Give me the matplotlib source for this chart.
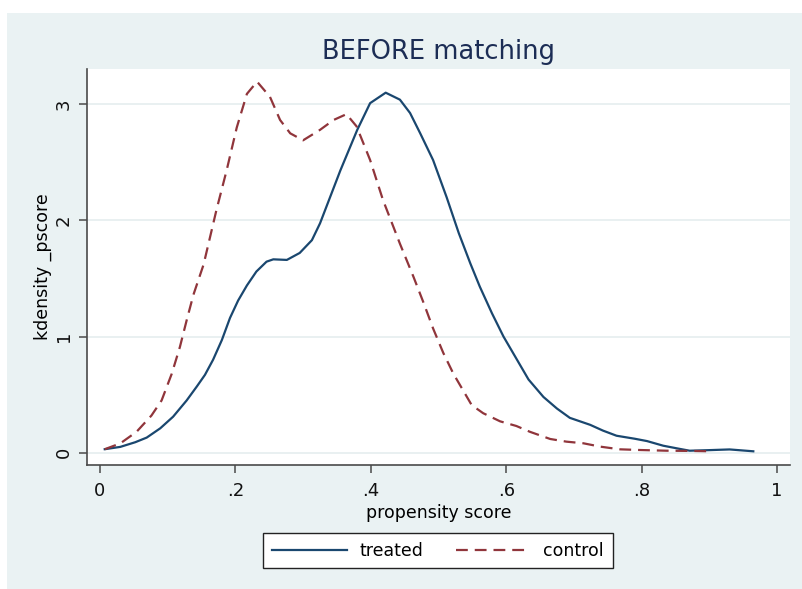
import matplotlib
matplotlib.use("Agg")
import matplotlib.pyplot as plt
from matplotlib.patches import Rectangle

# kernel density of the propensity score
treated_x = [0.007, 0.030, 0.052, 0.069, 0.089, 0.108, 0.128, 0.143, 0.155, 0.167,
             0.180, 0.192, 0.204, 0.217, 0.231, 0.246, 0.256, 0.276, 0.295, 0.313,
             0.325, 0.355, 0.380, 0.399, 0.422, 0.443, 0.458, 0.473, 0.492, 0.512,
             0.530, 0.547, 0.561, 0.579, 0.596, 0.613, 0.633, 0.655, 0.675, 0.694,
             0.724, 0.743, 0.763, 0.790, 0.808, 0.832, 0.857, 0.871, 0.900, 0.930,
             0.965]
treated_y = [0.03, 0.05, 0.09, 0.13, 0.21, 0.31, 0.45, 0.57, 0.67, 0.80,
             0.97, 1.16, 1.31, 1.44, 1.56, 1.645, 1.665, 1.66, 1.72, 1.83,
             1.975, 2.43, 2.78, 3.01, 3.10, 3.04, 2.925, 2.75, 2.52, 2.20,
             1.89, 1.63, 1.43, 1.20, 1.00, 0.83, 0.63, 0.48, 0.38, 0.30,
             0.24, 0.19, 0.146, 0.12, 0.10, 0.06, 0.032, 0.017, 0.022, 0.028,
             0.012]

control_x = [0.007, 0.030, 0.054, 0.076, 0.091, 0.106, 0.118, 0.128, 0.138, 0.153,
             0.172, 0.187, 0.202, 0.217, 0.232, 0.251, 0.266, 0.281, 0.300, 0.325,
             0.345, 0.364, 0.379, 0.399, 0.418, 0.443, 0.463, 0.478, 0.492, 0.507,
             0.522, 0.537, 0.549, 0.566, 0.591, 0.615, 0.635, 0.665, 0.689, 0.714,
             0.739, 0.768, 0.798, 0.837, 0.876, 0.904]
control_y = [0.03, 0.08, 0.18, 0.32, 0.45, 0.68, 0.91, 1.14, 1.36, 1.62,
             2.09, 2.43, 2.80, 3.09, 3.195, 3.065, 2.865, 2.75, 2.69, 2.78,
             2.865, 2.915, 2.81, 2.52, 2.176, 1.80, 1.515, 1.29, 1.07, 0.86,
             0.68, 0.53, 0.41, 0.34, 0.27, 0.23, 0.18, 0.118, 0.095, 0.081,
             0.052, 0.029, 0.023, 0.017, 0.015, 0.012]

x_ticks = [0, 0.2, 0.4, 0.6, 0.8, 1]
x_ticklabels = ['0', '.2', '.4', '.6', '.8', '1']
y_ticks = [0, 1, 2, 3]

navy = '#1a476f'
maroon = '#90353b'
panel = '#eaf2f3'
axcol = '#4a4a4a'

plt.rcParams['lines.scale_dashes'] = False

W, H = 802, 589
fig = plt.figure(figsize=(W / 100, H / 100), dpi=100)
fig.patches.append(Rectangle((7 / W, 0), 1 - 7 / W, 1 - 13 / H,
                             transform=fig.transFigure, facecolor=panel,
                             edgecolor='none', zorder=-10))

ax = fig.add_axes([87 / W, (H - 465) / H, (790 - 87) / W, (465 - 69) / H])
ax.set_facecolor('white')

ax.plot(treated_x, treated_y, color=navy, lw=1.6, label='treated')
ax.plot(control_x, control_y, color=maroon, lw=1.6, dashes=(8.5, 5), label='control')

ax.set_xlim(-0.0192, 1.0192)
ax.set_ylim(-0.106, 3.304)
ax.set_xticks(x_ticks)
ax.set_xticklabels(x_ticklabels)
ax.set_yticks(y_ticks)
ax.set_yticklabels([str(v) for v in y_ticks], rotation=90, va='center')

ax.grid(axis='y', color='#e3ecee', lw=1.1)
ax.set_axisbelow(True)
for side in ['top', 'right']:
    ax.spines[side].set_visible(False)
for side in ['left', 'bottom']:
    ax.spines[side].set_color(axcol)
    ax.spines[side].set_linewidth(1.2)
ax.tick_params(length=6, width=1.1, color=axcol, labelsize=13,
               labelcolor='#111111')
ax.tick_params(axis='x', pad=6)
ax.tick_params(axis='y', pad=4)

ax.set_xlabel('propensity score', fontsize=12.5, labelpad=3)
ax.set_ylabel('kdensity _pscore', fontsize=12.5, labelpad=2)

fig.text((87 + 790) / 2 / W, 1 - 59 / H, 'BEFORE matching', ha='center',
         va='baseline', fontsize=18.5, color='#1c2d55')

leg = ax.legend(loc='upper center', bbox_to_anchor=(438 / W, 1 - 533 / H),
                bbox_transform=fig.transFigure, ncol=2, fontsize=12.5,
                frameon=True, fancybox=False, borderaxespad=0,
                handlelength=4.3, handletextpad=0.75, columnspacing=1.85,
                borderpad=0.5)
leg.get_frame().set_edgecolor('#222222')
leg.get_frame().set_linewidth(1.0)
leg.get_frame().set_alpha(1)

fig.savefig('out.png', dpi=100)
